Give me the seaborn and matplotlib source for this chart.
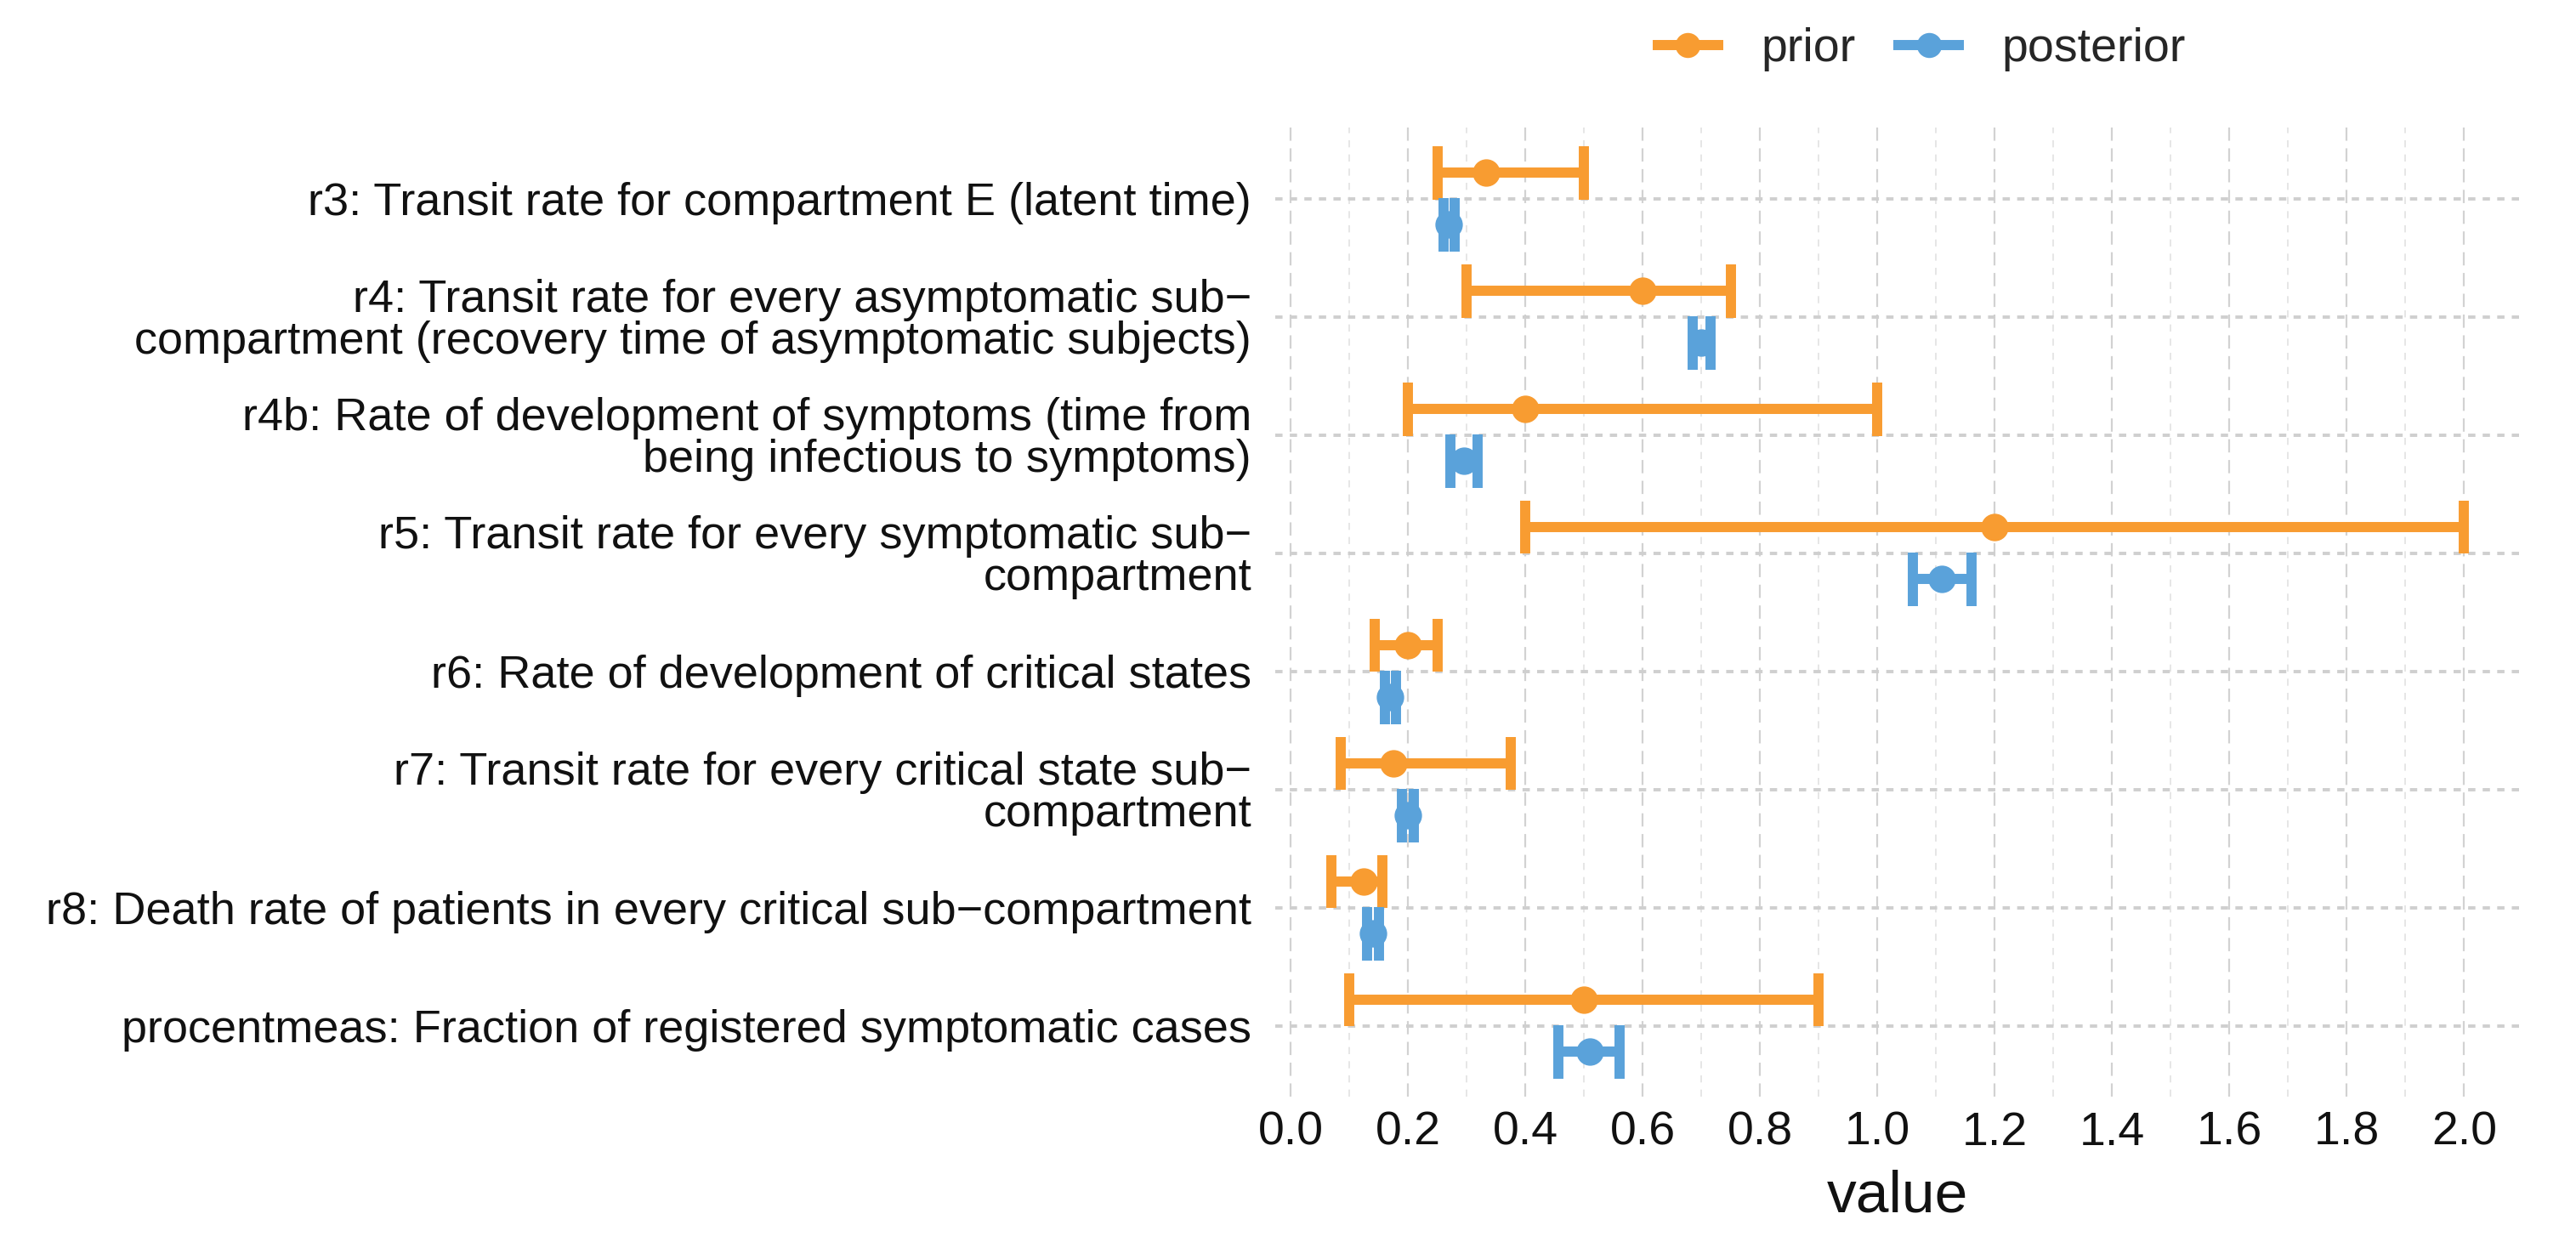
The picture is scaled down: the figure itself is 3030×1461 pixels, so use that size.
import numpy as np
import pandas as pd
import matplotlib
matplotlib.use("Agg")
import matplotlib.pyplot as plt
from matplotlib.lines import Line2D
from matplotlib.ticker import MultipleLocator
import seaborn as sns

# parameter labels (top to bottom)
params = [
    "r3: Transit rate for compartment E (latent time)",
    "r4: Transit rate for every asymptomatic sub\u2212\ncompartment (recovery time of asymptomatic subjects)",
    "r4b: Rate of development of symptoms (time from\nbeing infectious to symptoms)",
    "r5: Transit rate for every symptomatic sub\u2212\ncompartment",
    "r6: Rate of development of critical states",
    "r7: Transit rate for every critical state sub\u2212\ncompartment",
    "r8: Death rate of patients in every critical sub\u2212compartment",
    "procentmeas: Fraction of registered symptomatic cases",
]

# prior intervals
prior_lo = [0.25, 0.30, 0.20, 0.40, 0.143, 0.085, 0.07, 0.10]
prior_mid = [0.333, 0.60, 0.40, 1.20, 0.20, 0.175, 0.125, 0.50]
prior_hi = [0.50, 0.75, 1.00, 2.00, 0.25, 0.375, 0.156, 0.90]

# posterior intervals
post_lo = [0.26, 0.685, 0.272, 1.06, 0.16, 0.19, 0.13, 0.457]
post_mid = [0.27, 0.70, 0.295, 1.11, 0.17, 0.20, 0.14, 0.51]
post_hi = [0.28, 0.715, 0.318, 1.16, 0.18, 0.21, 0.15, 0.56]

dists = ["prior", "posterior"]
colors = {"prior": "#F89C31", "posterior": "#5AA2DA"}

# long table: lo / mid / hi per parameter and distribution
rows = []
for i, p in enumerate(params):
    for d, lo, mid, hi in [("prior", prior_lo, prior_mid, prior_hi),
                           ("posterior", post_lo, post_mid, post_hi)]:
        for v in (lo[i], mid[i], hi[i]):
            rows.append({"param": p, "dist": d, "value": v})
df = pd.DataFrame(rows)

sns.set_style("white")
plt.rcParams["font.family"] = ["Liberation Sans", "DejaVu Sans"]

fig = plt.figure(figsize=(15.15, 7.305), dpi=200)
ax = fig.add_axes([0.495, 0.117, 0.4835, 0.78])

# median of (lo, mid, hi) = mid, 100% interval = lo..hi
sns.pointplot(data=df, x="value", y="param", hue="dist", order=params,
              hue_order=dists, palette=colors, estimator="median",
              errorbar=("pi", 100), dodge=0.44, linestyle="none",
              markers="o", markersize=9.6, capsize=0.45,
              err_kws={"linewidth": 4.3, "solid_capstyle": "butt"},
              legend=False, ax=ax)

ax.set_xlim(-0.0265, 2.0965)
ax.set_ylim(7.6, -0.6)
ax.xaxis.set_major_locator(MultipleLocator(0.2))
ax.xaxis.set_minor_locator(MultipleLocator(0.1))
ax.xaxis.set_major_formatter(lambda v, pos: f"{v:.1f}")

ax.set_axisbelow(True)
ax.grid(which="major", axis="x", color="#d2d2d2", lw=0.8, ls=(0, (7, 4)))
ax.grid(which="minor", axis="x", color="#e2e2e2", lw=0.6, ls=(0, (5, 5)))
ax.grid(which="major", axis="y", color="#cfcfcf", lw=1.4, ls=(0, (2.2, 2.2)))
for s in ax.spines.values():
    s.set_visible(False)

ax.tick_params(axis="both", which="both", length=0)
ax.tick_params(axis="y", labelsize=19.5, pad=10, labelcolor="#111111")
ax.tick_params(axis="x", labelsize=20, pad=6, labelcolor="#111111")
for lbl in ax.get_yticklabels():
    lbl.set_linespacing(0.97)
ax.set_ylabel("")
ax.set_xlabel("value", fontsize=25, labelpad=6, color="#111111")

handles = [Line2D([], [], color=colors[d], lw=4.3, marker="o", markersize=9.6,
                  solid_capstyle="butt") for d in dists]
fig.legend(handles, dists, loc="center", bbox_to_anchor=(0.745, 0.96),
           ncol=2, frameon=False, fontsize=20, handlelength=1.5,
           handletextpad=0.8, columnspacing=0.8)

fig.savefig("out.png", dpi=200)
